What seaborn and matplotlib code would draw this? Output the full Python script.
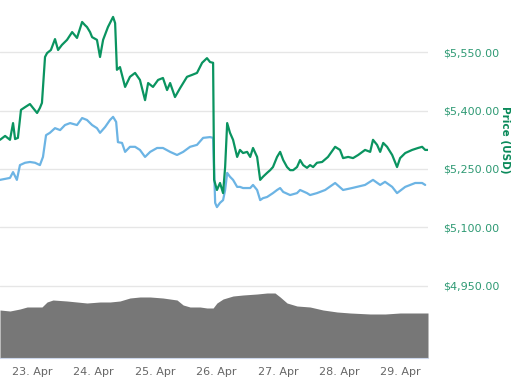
import seaborn as sns
from matplotlib import pyplot as plt
import matplotlib.dates as mdates
import pandas as pd

# hours counted from 22 Apr 2018 00:00
green_hours = [11.4, 13.4, 15.3, 16.5, 17.3, 18.4, 19.6, 21.2, 23.1, 24.3, 25.9, 27.0, 27.8,
               29.0, 29.8, 31.3, 32.9, 34.1, 35.6, 37.6, 39.6, 41.5, 43.5, 44.6, 45.4, 46.6,
               47.4, 49.3, 50.5, 51.7, 53.6, 55.6, 56.4, 57.1, 58.3, 60.3, 62.2, 64.2, 66.1,
               68.1, 69.3, 71.2, 73.2, 75.1, 76.7, 77.9, 79.8, 81.8, 84.5, 86.5, 88.4, 90.4,
               92.3, 93.5, 94.7, 95.1, 96.2, 97.4, 98.6, 99.4, 100.2, 101.3, 102.5, 104.1,
               105.2, 106.4, 108.0, 109.2, 110.3, 111.9, 113.1, 114.2, 115.8, 117.0, 118.1,
               119.7, 120.9, 122.1, 123.6, 124.8, 126.0, 127.5, 128.7, 129.9, 131.4, 132.6,
               133.8, 135.3, 137.3, 139.6, 142.4, 144.3, 145.5, 147.5, 149.4, 151.4, 154.1,
               156.1, 157.2, 158.8, 160.0, 161.2, 162.7, 164.7, 166.6, 167.8, 169.8, 172.5,
               174.8, 176.4, 177.6, 178.7]
green_price = [5325, 5335, 5325, 5368, 5327, 5330, 5402, 5409, 5417, 5407, 5394, 5407, 5420,
               5538, 5548, 5556, 5584, 5556, 5569, 5582, 5602, 5587, 5628, 5620, 5615, 5602,
               5589, 5582, 5538, 5582, 5615, 5641, 5625, 5505, 5512, 5461, 5487, 5497, 5479,
               5427, 5471, 5461, 5479, 5484, 5453, 5471, 5435, 5458, 5487, 5492, 5497, 5523,
               5535, 5525, 5523, 5222, 5196, 5214, 5188, 5255, 5368, 5343, 5325, 5281,
               5299, 5291, 5294, 5281, 5304, 5281, 5222, 5230, 5240, 5247, 5255,
               5281, 5294, 5273, 5255, 5247, 5247, 5255, 5273, 5260, 5253, 5260,
               5255, 5266, 5268, 5281, 5307, 5299, 5278, 5281, 5278, 5286, 5299,
               5294, 5325, 5312, 5294, 5317, 5307, 5286, 5255, 5278, 5291, 5299,
               5304, 5307, 5299, 5299]

blue_hours = [11.4, 15.3, 16.5, 18.0, 19.2, 21.2, 23.1, 25.1, 27.0, 28.2, 29.4, 30.9, 32.9,
              34.9, 36.8, 38.8, 41.5, 43.5, 45.4, 47.4, 49.3, 50.5, 52.5, 54.4, 55.6, 56.8,
              57.5, 59.1, 60.3, 62.2, 64.2, 66.1, 68.1, 70.1, 72.8, 75.1, 77.9, 80.6, 83.0,
              85.7, 88.4, 90.8, 93.5, 94.7, 95.5, 96.2, 97.4, 98.6, 99.4, 100.2, 101.3,
              102.5, 104.1, 105.2, 106.4, 109.2, 110.3, 111.9, 113.1, 114.2, 115.8, 118.1,
              119.7, 120.9, 122.1, 124.8, 127.5, 128.7, 131.4, 132.6, 135.3, 138.5, 142.4,
              145.5, 149.0, 154.1, 157.2, 160.0, 161.9, 164.7, 166.6, 169.8, 173.7, 176.4,
              177.6]
blue_price = [5222, 5227, 5242, 5222, 5260, 5266, 5268, 5266, 5260, 5281, 5337, 5343, 5355,
              5350, 5363, 5368, 5363, 5381, 5376, 5363, 5355, 5343, 5358, 5376, 5384, 5371,
              5319, 5317, 5294, 5307, 5307, 5299, 5281, 5294, 5304, 5304, 5294, 5286, 5294,
              5307, 5312, 5330, 5332, 5330, 5163, 5152, 5163, 5170, 5196, 5240, 5230,
              5222, 5204, 5204, 5201, 5201, 5209, 5196, 5170, 5175, 5178, 5188,
              5196, 5201, 5191, 5183, 5188, 5196, 5188, 5183, 5188, 5196, 5214,
              5196, 5201, 5209, 5222, 5209, 5217, 5204, 5188, 5204, 5214, 5214,
              5209]

vol_hours = [11.4, 15.3, 19.2, 22.0, 24.3, 27.8, 29.8, 32.1, 37.6, 41.5, 45.4, 50.5, 54.4,
             58.3, 62.2, 66.1, 70.1, 75.1, 80.6, 83.0, 85.7, 89.6, 92.3, 94.7, 96.2, 98.6,
             102.5, 106.4, 111.9, 115.8, 118.9, 120.9, 123.6, 127.5, 132.6, 137.7, 143.2,
             148.3, 156.1, 162.0, 167.8, 178.7]
volume = [4.8, 4.7, 4.9, 5.1, 5.1, 5.1, 5.6, 5.8, 5.7, 5.6, 5.5, 5.6, 5.6,
          5.7, 6.0, 6.1, 6.1, 6.0, 5.8, 5.3, 5.1, 5.1, 5.0, 5.0, 5.5, 5.9,
          6.2, 6.3, 6.4, 6.5, 6.5, 6.1, 5.5, 5.2, 5.1, 4.8, 4.6,
          4.5, 4.4, 4.4, 4.5, 4.5]

price_ticks = [4950, 5100, 5250, 5400, 5550]
day_ticks = [23, 24, 25, 26, 27, 28, 29]

start = pd.Timestamp("2018-04-22")
def to_time(h):
    return start + pd.to_timedelta(h, unit="h")

green_t = to_time(green_hours)
blue_t = to_time(blue_hours)
vol_t = to_time(vol_hours)

sns.set_style("white")
plt.rcParams['font.family'] = ['DejaVu Sans']

fig = plt.figure(figsize=(5.29, 3.92), dpi=100)
ax = fig.add_axes([0, 1 - 358 / 392, 428 / 529, 358 / 392])

# volume in the background on its own hidden scale
ax2 = ax.twinx()
ax2.fill_between(vol_t, 0, volume, color="#777777", linewidth=0)
ax2.set_ylim(0, 35.8)
ax2.set_yticks([])
for s in ax2.spines.values():
    s.set_visible(False)

for y in price_ticks:
    ax.axhline(y, color="#e6e6e6", linewidth=1, zorder=0)

sns.lineplot(x=blue_t, y=blue_price, ax=ax, color="#6cb4e4", linewidth=1.6)
sns.lineplot(x=green_t, y=green_price, ax=ax, color="#0a9460", linewidth=1.6)

ax.set_ylim(4764, 5684.5)
ax.set_xlim(to_time(11.4), to_time(178.7))
ax.set_yticks(price_ticks)
ax.set_yticklabels([f"${v:,.2f}" for v in price_ticks])
ax.yaxis.tick_right()
ax.tick_params(axis="y", length=0, pad=11, labelsize=8, labelcolor="#2f9a74")
ax.set_ylabel("Price (USD)", color="#0a8a5a", fontsize=7.5, fontweight="bold",
              rotation=270, va="center")
ax.yaxis.set_label_position("right")
ax.yaxis.set_label_coords(510 / 428, 1 - 140 / 358)

ax.set_xticks([pd.Timestamp(2018, 4, d) for d in day_ticks])
ax.xaxis.set_major_formatter(mdates.DateFormatter("%d. %b"))
ax.tick_params(axis="x", length=3.6, width=1, color="#ccd6eb", pad=3,
               labelsize=8, labelcolor="#666666")
ax.set_xlabel("")

for name, s in ax.spines.items():
    s.set_visible(name == "bottom")
ax.spines["bottom"].set_color("#ccd6eb")
ax.set_zorder(ax2.get_zorder() + 1)
ax.patch.set_visible(False)

fig.savefig("out.png", dpi=100)
